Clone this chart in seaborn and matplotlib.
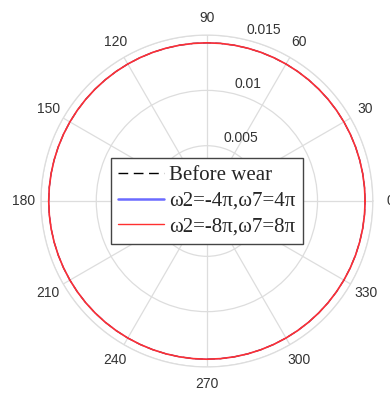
import numpy as np
import pandas as pd
import seaborn as sns
import matplotlib.pyplot as plt
from matplotlib import transforms

theta_deg = [0, 5, 10, 15, 20, 25, 30, 35, 40, 45, 50, 55, 60, 65, 70, 75, 80, 85,
             90, 95, 100, 105, 110, 115, 120, 125, 130, 135, 140, 145, 150, 155, 160, 165, 170, 175,
             180, 185, 190, 195, 200, 205, 210, 215, 220, 225, 230, 235, 240, 245, 250, 255, 260, 265,
             270, 275, 280, 285, 290, 295, 300, 305, 310, 315, 320, 325, 330, 335, 340, 345, 350, 355, 360]
r_before = [0.0143] * len(theta_deg)
r_case1 = [0.0143] * len(theta_deg)
r_case2 = [0.0143] * len(theta_deg)

theta_ticks = [0, 30, 60, 90, 120, 150, 180, 210, 240, 270, 300, 330]
r_ticks = [0.005, 0.01, 0.015]
r_labels = ["0.005", "0.01", "0.015"]

series = [
    ("Before wear", r_before, "black", (0, (7, 4)), 0.8),
    ("ω2=-4π,ω7=4π", r_case1, "#6b6bff", "-", 0.9),
    ("ω2=-8π,ω7=8π", r_case2, "#ff3030", "-", 1.2),
]

sns.set_style("white")
plt.rcParams["font.family"] = ["Liberation Sans", "DejaVu Sans"]

fig = plt.figure(figsize=(3.9, 3.93), dpi=100)
ax = fig.add_axes([0.105, 0.066, 0.851, 0.845], projection="polar")

for name, r, col, ls, lw in series:
    df = pd.DataFrame({"theta": np.deg2rad(theta_deg), "r": r})
    sns.lineplot(data=df, x="theta", y="r", ax=ax, color=col, linestyle=ls,
                 linewidth=lw, sort=False, label=name)

ax.set_ylim(0, 0.015)
ax.set_xticks(np.deg2rad(theta_ticks))
ax.set_xticklabels([str(t) for t in theta_ticks], fontsize=10, color="#333333")
ax.tick_params(axis="x", pad=2)
ax.set_yticks(r_ticks)
ax.set_yticklabels([])
ax.set_xlabel("")
ax.set_ylabel("")
ax.grid(True, color="#dddddd", linewidth=0.9)
ax.spines["polar"].set_color("#dddddd")
ax.spines["polar"].set_linewidth(0.9)

off = transforms.offset_copy(ax.transData, fig=fig, x=5, y=2, units="dots")
for rv, lab in zip(r_ticks, r_labels):
    ax.text(np.deg2rad(78), rv, lab, transform=off, ha="left", va="bottom",
            fontsize=10, color="#333333")

leg = ax.legend(loc="center", prop={"family": "Liberation Serif", "size": 15},
                handlelength=2.2, handletextpad=0.25, borderpad=0.35,
                labelspacing=0.3, fancybox=False, framealpha=1,
                edgecolor="#444444", borderaxespad=0)
leg.get_frame().set_linewidth(1.0)
leg_lines = leg.get_lines()
leg_lines[0].set_linewidth(1.0)
leg_lines[1].set_linewidth(1.8)
leg_lines[2].set_linewidth(1.0)

fig.savefig("out.png", dpi=100)
